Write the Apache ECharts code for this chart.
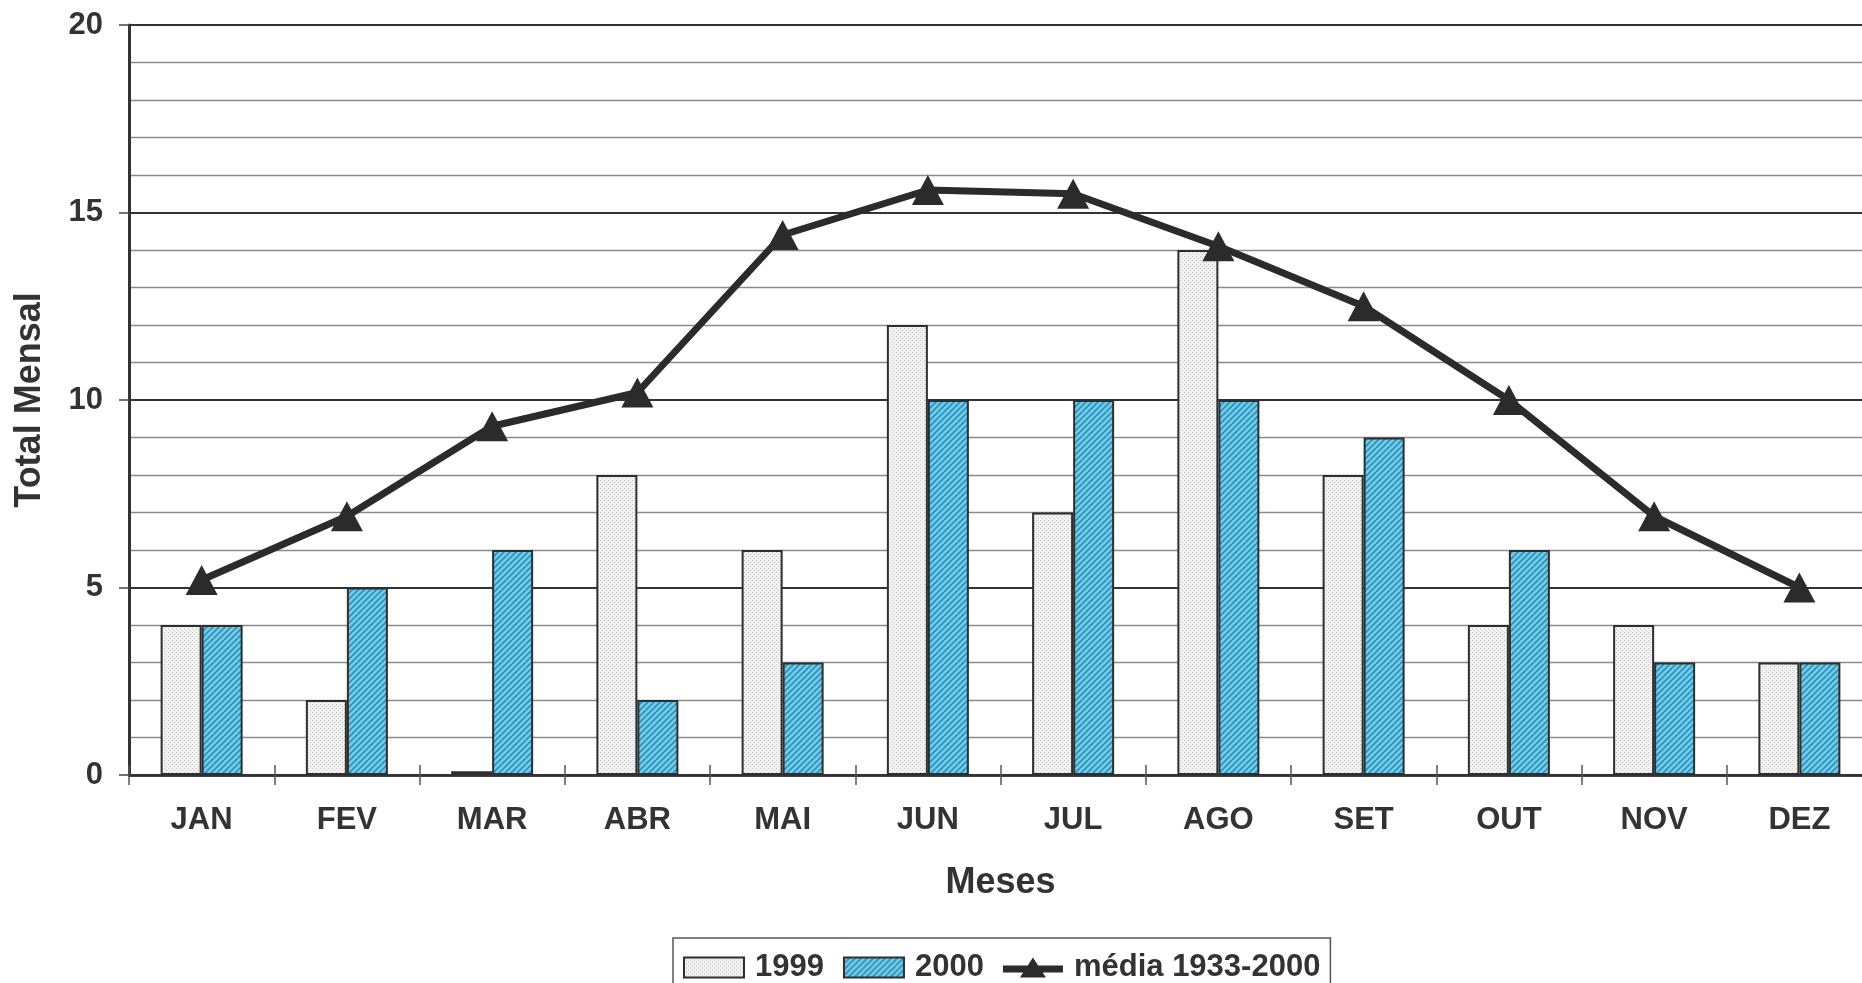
<!DOCTYPE html>
<html>
<head>
<meta charset="utf-8">
<script src="https://cdn.jsdelivr.net/npm/echarts@6/dist/echarts.min.js"></script>
<style>
html,body{margin:0;padding:0;background:#fff;}
#c{width:1862px;height:983px;}
</style>
</head>
<body>
<div id="c"></div>
<script>
const categories = ['JAN','FEV','MAR','ABR','MAI','JUN','JUL','AGO','SET','OUT','NOV','DEZ'];
const values1999 = [4, 2, 0.1, 8, 6, 12, 7, 14, 8, 4, 4, 3];
const values2000 = [4, 5, 6, 2, 3, 10, 10, 10, 9, 6, 3, 3];
const media = [5.2, 6.9, 9.3, 10.2, 14.4, 15.6, 15.5, 14.1, 12.5, 10.0, 6.9, 5.0];
const seriesNames = ['1999', '2000', 'média 1933-2000'];

function dotPattern() {
  const c = document.createElement('canvas');
  c.width = 4; c.height = 4;
  const g = c.getContext('2d');
  g.fillStyle = '#f2f2f2'; g.fillRect(0,0,4,4);
  g.fillStyle = '#c0c0c0';
  g.fillRect(0,0,1,1); g.fillRect(2,2,1,1);
  return c;
}
function hatchPattern() {
  const c = document.createElement('canvas');
  c.width = 6; c.height = 6;
  const g = c.getContext('2d');
  g.fillStyle = '#7fcbe4'; g.fillRect(0,0,6,6);
  g.strokeStyle = '#2496bf'; g.lineWidth = 1.8;
  g.beginPath();
  g.moveTo(0,6); g.lineTo(6,0);
  g.moveTo(-3,3); g.lineTo(3,-3);
  g.moveTo(3,9); g.lineTo(9,3);
  g.stroke();
  return c;
}

const lineLegendIcon = 'path://M0,8 L24.8,8 L30,0 L35.2,8 L60,8 L60,15 L39.75,15 L43,20 L17,20 L20.25,15 L0,15 Z';

const TXT = '#333';
const FONT = 'Liberation Sans, Arial, sans-serif';
const chart = echarts.init(document.getElementById('c'));
chart.setOption({
  backgroundColor: '#fff',
  animation: false,
  textStyle: { fontFamily: FONT, color: TXT, fontWeight: 'bold' },
  grid: { left: 129, top: 25, width: 1743, bottom: 208, containLabel: false, outerBoundsMode: 'none' },
  legend: {
    data: [
      { name: seriesNames[0], icon: 'rect' },
      { name: seriesNames[1], icon: 'rect' },
      { name: seriesNames[2], icon: lineLegendIcon, itemStyle: { color: '#2b2b2b', borderWidth: 0 } }
    ],
    left: 673, top: 938,
    padding: [14, 10, 20, 10],
    itemGap: 19,
    itemWidth: 60, itemHeight: 20,
    borderColor: '#555', borderWidth: 1.5,
    textStyle: { fontFamily: FONT, fontWeight: 'bold', fontSize: 31, color: TXT, padding: [0, 0, 0, 6] }
  },
  xAxis: [{
    type: 'category',
    data: categories,
    name: 'Meses',
    nameLocation: 'middle',
    nameGap: 90,
    nameTextStyle: { fontFamily: FONT, fontWeight: 'bold', fontSize: 36, color: TXT },
    axisLine: { show: true, lineStyle: { color: '#333', width: 2.5 } },
    axisTick: { show: true, length: 10, lineStyle: { color: '#555', width: 1.5 } },
    axisLabel: { fontFamily: FONT, fontWeight: 'bold', fontSize: 31, color: TXT, margin: 30 },
    splitLine: { show: false }
  }, {
    type: 'category',
    data: categories,
    gridIndex: 0,
    position: 'bottom',
    offset: 0,
    axisLine: { show: true, onZero: false, lineStyle: { color: '#333', width: 2.5 } },
    axisTick: { show: true, inside: true, length: 10, lineStyle: { color: '#555', width: 1.5 } },
    axisLabel: { show: false },
    splitLine: { show: false }
  }],
  yAxis: {
    type: 'value',
    min: 0, max: 20, interval: 5,
    name: 'Total Mensal',
    nameLocation: 'middle',
    nameGap: 81,
    nameRotate: 90,
    nameTextStyle: { fontFamily: FONT, fontWeight: 'bold', fontSize: 36, color: TXT },
    axisLine: { show: true, lineStyle: { color: '#333', width: 3 } },
    axisTick: { show: true, length: 10, lineStyle: { color: '#444', width: 1.5 } },
    axisLabel: { fontFamily: FONT, fontWeight: 'bold', fontSize: 31, color: TXT, margin: 26 },
    splitLine: { show: true, lineStyle: { color: '#333', width: 2.2 } },
    minorTick: { show: false, splitNumber: 5 },
    minorSplitLine: { show: true, lineStyle: { color: '#8a8a8a', width: 1.4 } }
  },
  series: [{
    name: seriesNames[0],
    type: 'bar',
    data: values1999,
    barWidth: 41,
    barGap: '0%',
    itemStyle: { color: { image: dotPattern(), repeat: 'repeat' }, borderColor: '#2e2e2e', borderWidth: 2 }
  }, {
    name: seriesNames[1],
    type: 'bar',
    data: values2000,
    barWidth: 41,
    barGap: '0%',
    itemStyle: { color: { image: hatchPattern(), repeat: 'repeat' }, borderColor: '#2e2e2e', borderWidth: 2 }
  }, {
    name: seriesNames[2],
    type: 'line',
    data: media,
    z: 5,
    symbol: 'triangle',
    symbolSize: [32, 30],
    lineStyle: { color: '#2b2b2b', width: 7 },
    itemStyle: { color: '#2b2b2b' }
  }]
});
</script>
</body>
</html>
